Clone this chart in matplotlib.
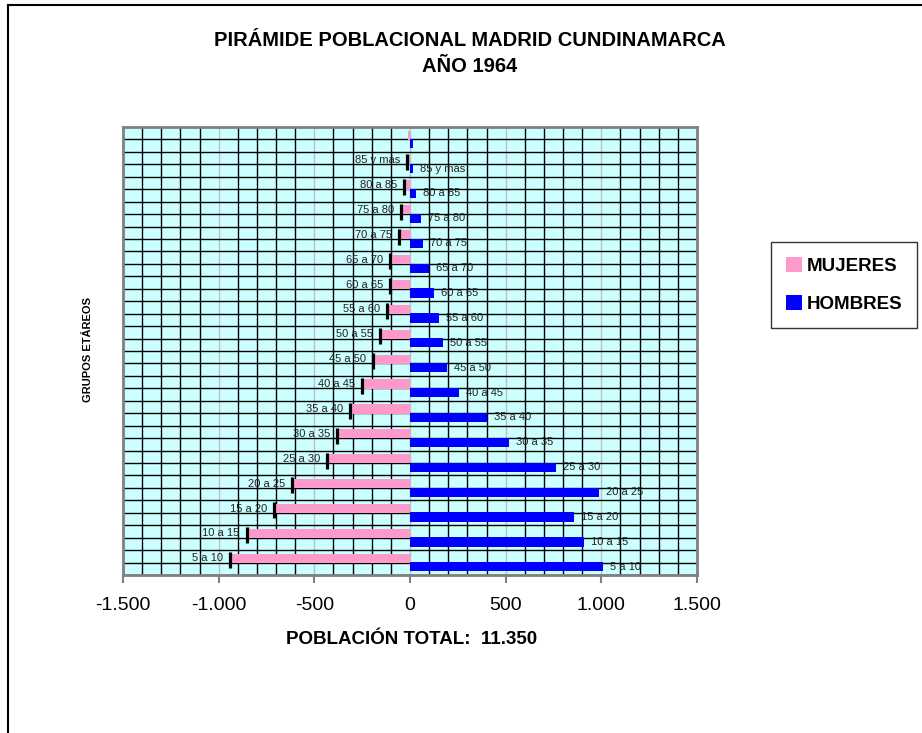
import numpy as np
import matplotlib
matplotlib.use("Agg")
from matplotlib import pyplot as plt
from matplotlib.patches import Patch
from matplotlib.lines import Line2D
from matplotlib.ticker import FuncFormatter

plt.rcParams['font.family'] = ['Liberation Sans', 'DejaVu Sans']

# age groups, top to bottom (labels as shown on the bars)
groups = ["", "85 y más", "80 a 85", "75 a 80", "70 a 75", "65 a 70", "60 a 65",
          "55 a 60", "50 a 55", "45 a 50", "40 a 45", "35 a 40", "30 a 35",
          "25 a 30", "20 a 25", "15 a 20", "10 a 15", "5 a 10"]
mujeres = [10, 16, 31, 49, 56, 105, 105, 122, 158, 195, 249, 315, 380, 432, 615, 712, 854, 941]
hombres = [14, 17, 31, 56, 70, 101, 127, 152, 172, 192, 258, 404, 516, 763, 988, 859, 908, 1007]
x_ticks = [-1500, -1000, -500, 0, 500, 1000, 1500]

pink = "#FF99CC"
blue = "#0000FF"

fig = plt.figure(figsize=(9.22, 7.33), dpi=100)
ax = fig.add_axes([123 / 922, 1 - 575 / 733, 574 / 922, 448 / 733])
ax.set_facecolor("#CCFFFF")

y = np.arange(len(groups))
w = -np.array(mujeres)
h = np.array(hombres)

ax.barh(y - 0.17, w, height=0.37, color=pink, zorder=3)
ax.barh(y + 0.17, h, height=0.37, color=blue, zorder=3)

# black marks at the end of the women bars
has_lab = np.array([g != "" for g in groups])
ax.plot(w[has_lab], y[has_lab] - 0.1, linestyle="none", marker="|",
        markersize=11, mew=2.3, color="black", zorder=4)

for i, g in enumerate(groups):
    if g == "":
        continue
    ax.annotate(g, (w[i], y[i] - 0.17), xytext=(-5, 0), textcoords="offset points",
                ha="right", va="center", fontsize=8, color="#222222", zorder=2)
    ax.annotate(g, (h[i], y[i] + 0.17), xytext=(5, 0), textcoords="offset points",
                ha="left", va="center", fontsize=8, color="#222222", zorder=2)

ax.set_xlim(-1500, 1500)
ax.set_ylim(len(groups) - 0.5, -0.5)

# grid
for v in np.arange(-1400, 1500, 100):
    col = "#C0C0C0" if v % 500 == 0 else "black"
    ax.axvline(v, color=col, lw=1.0, zorder=1)
for v in np.arange(0, len(groups), 0.5):
    ax.axhline(v, color="black", lw=1.0, zorder=1)

ax.set_xticks(x_ticks)
ax.xaxis.set_major_formatter(FuncFormatter(lambda v, p: f"{int(v):,}".replace(",", ".")))
ax.set_yticks([])
ax.tick_params(axis="x", direction="out", length=6, width=1.5, color="#808080",
               labelsize=14, pad=10)
for s in ax.spines.values():
    s.set_color("#808080")
    s.set_linewidth(2)

fig.text(470 / 922, 1 - 41 / 733, "PIRÁMIDE POBLACIONAL MADRID CUNDINAMARCA",
         ha="center", va="center", fontsize=14.5, fontweight="bold")
fig.text(470 / 922, 1 - 67 / 733, "AÑO 1964",
         ha="center", va="center", fontsize=14.5, fontweight="bold")
fig.text(88 / 922, 1 - 350 / 733, "GRUPOS ETÁREOS", rotation=90,
         ha="center", va="center", fontsize=8, fontweight="bold")
fig.text(412 / 922, 1 - 640 / 733, "POBLACIÓN TOTAL:  11.350",
         ha="center", va="center", fontsize=13.5, fontweight="bold")

handles = [Patch(facecolor=pink), Patch(facecolor=blue)]
leg = fig.legend(handles, ["MUJERES", "HOMBRES"], loc="center left",
                 bbox_to_anchor=(771 / 922, 1 - 285 / 733), frameon=True,
                 fancybox=False, edgecolor="black", prop={"weight": "bold", "size": 13.5},
                 handlelength=0.85, handleheight=0.85, handletextpad=0.25,
                 labelspacing=1.05, borderpad=0.8, borderaxespad=0)
leg.get_frame().set_linewidth(1.0)

# outer chart border (left and top edges)
fig.add_artist(Line2D([8 / 922, 8 / 922], [0, 1 - 5 / 733], color="black", lw=1.5))
fig.add_artist(Line2D([8 / 922, 1], [1 - 5 / 733, 1 - 5 / 733], color="black", lw=1.5))

fig.savefig("out.png", dpi=100)
